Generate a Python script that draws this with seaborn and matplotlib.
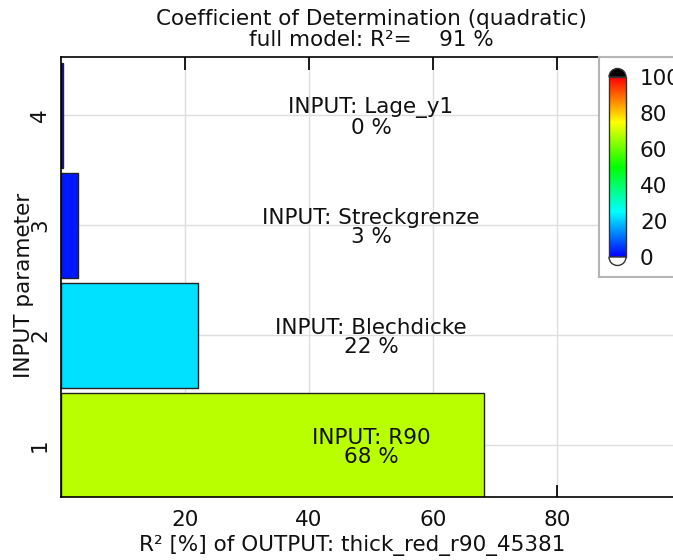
import matplotlib
matplotlib.use("Agg")
import matplotlib.pyplot as plt
import matplotlib.colors as mcolors
from matplotlib.patches import Wedge
import seaborn as sns
import pandas as pd

# data
params = ["4", "3", "2", "1"]
names = ["Lage_y1", "Streckgrenze", "Blechdicke", "R90"]
r2 = [0.3, 2.7, 22.1, 68.2]
r2_labels = [0, 3, 22, 68]
cbar_ticks = [0, 20, 40, 60, 80, 100]
x_ticks = [20, 40, 60, 80]

FS = 15.5
sns.set_theme(style="white")
plt.rcParams["font.family"] = ["DejaVu Sans"]
plt.rcParams["font.size"] = FS
plt.rcParams["text.color"] = "#111111"
plt.rcParams["axes.labelcolor"] = "#111111"

# blue -> cyan -> green -> yellow -> red
cmap = mcolors.LinearSegmentedColormap.from_list(
    "cc", [(0, "#0000ff"), (0.25, "#00ffff"), (0.5, "#00ff00"),
           (0.75, "#ffff00"), (1.0, "#ff0000")])
norm = mcolors.Normalize(0, 100)
colors = [cmap(norm(v)) for v in r2]

df = pd.DataFrame({"param": params, "r2": r2})

W, H = 673, 560
fig = plt.figure(figsize=(W / 100, H / 100), dpi=100)
ax = fig.add_axes([61 / W, 1 - 497 / H, (681 - 61) / W, (497 - 57) / H])

sns.barplot(data=df, x="r2", y="param", hue="param", order=params,
            palette=dict(zip(params, colors)), orient="h", width=0.95,
            saturation=1, edgecolor="#222222", linewidth=1.0, legend=False,
            ax=ax)

ax.set_xlim(0, 100)
ax.set_ylim(3.47, -0.53)
ax.set_xticks(x_ticks)
ax.set_axisbelow(True)
ax.grid(True, color="#dedede", linewidth=1)
for s in ax.spines.values():
    s.set_color("black")
    s.set_linewidth(1.2)
ax.tick_params(direction="in", length=6, color="black", top=True,
               labelsize=FS, labelcolor="#111111")
ax.tick_params(axis="x", which="major", bottom=True, length=9, pad=9)
ax.tick_params(axis="y", labelrotation=90, pad=8)
for lab in ax.get_yticklabels():
    lab.set_va("center")

for i, (n, v) in enumerate(zip(names, r2_labels)):
    ax.text(50, i + 0.02, f"INPUT: {n}\n{v} %", ha="center", va="center",
            fontsize=FS, linespacing=0.95)

ax.set_ylabel("INPUT parameter", fontsize=FS)
ax.yaxis.set_label_coords(-0.044, 0.48)
ax.set_xlabel("R² [%] of OUTPUT: thick_red_r90_45381", fontsize=FS)
ax.xaxis.set_label_coords((352 - 61) / (681 - 61), -0.087)
ax.set_title("Coefficient of Determination (quadratic)\nfull model: R²=    91 %",
             fontsize=FS, linespacing=1.05, pad=8)

# colorbar frame
box = fig.add_axes([599 / W, 1 - 277 / H, 90 / W, 220 / H])
box.set_xticks([])
box.set_yticks([])
for s in box.spines.values():
    s.set_color("#b5b5b5")
    s.set_linewidth(1.5)
box.set_facecolor("white")

cax = fig.add_axes([609 / W, 1 - 257 / H, 17 / W, 180 / H])
sm = matplotlib.cm.ScalarMappable(norm=norm, cmap=cmap)
cb = fig.colorbar(sm, cax=cax, ticks=cbar_ticks)
cb.outline.set_edgecolor("#333333")
cb.outline.set_linewidth(1)
cax.tick_params(direction="in", length=6, color="black", labelsize=FS, pad=10,
                labelcolor="#111111")

# rounded over/under caps of the colour bar
r = 8.5 / 100
cx = 617.5 / 100
fig.patches.append(Wedge((cx, (H - 77) / 100), r, 0, 180, facecolor="black",
                         edgecolor="#333333", lw=1,
                         transform=fig.dpi_scale_trans, figure=fig))
fig.patches.append(Wedge((cx, (H - 257) / 100), r, 180, 360, facecolor="white",
                         edgecolor="#333333", lw=1,
                         transform=fig.dpi_scale_trans, figure=fig))

fig.savefig("out.png", dpi=100)
